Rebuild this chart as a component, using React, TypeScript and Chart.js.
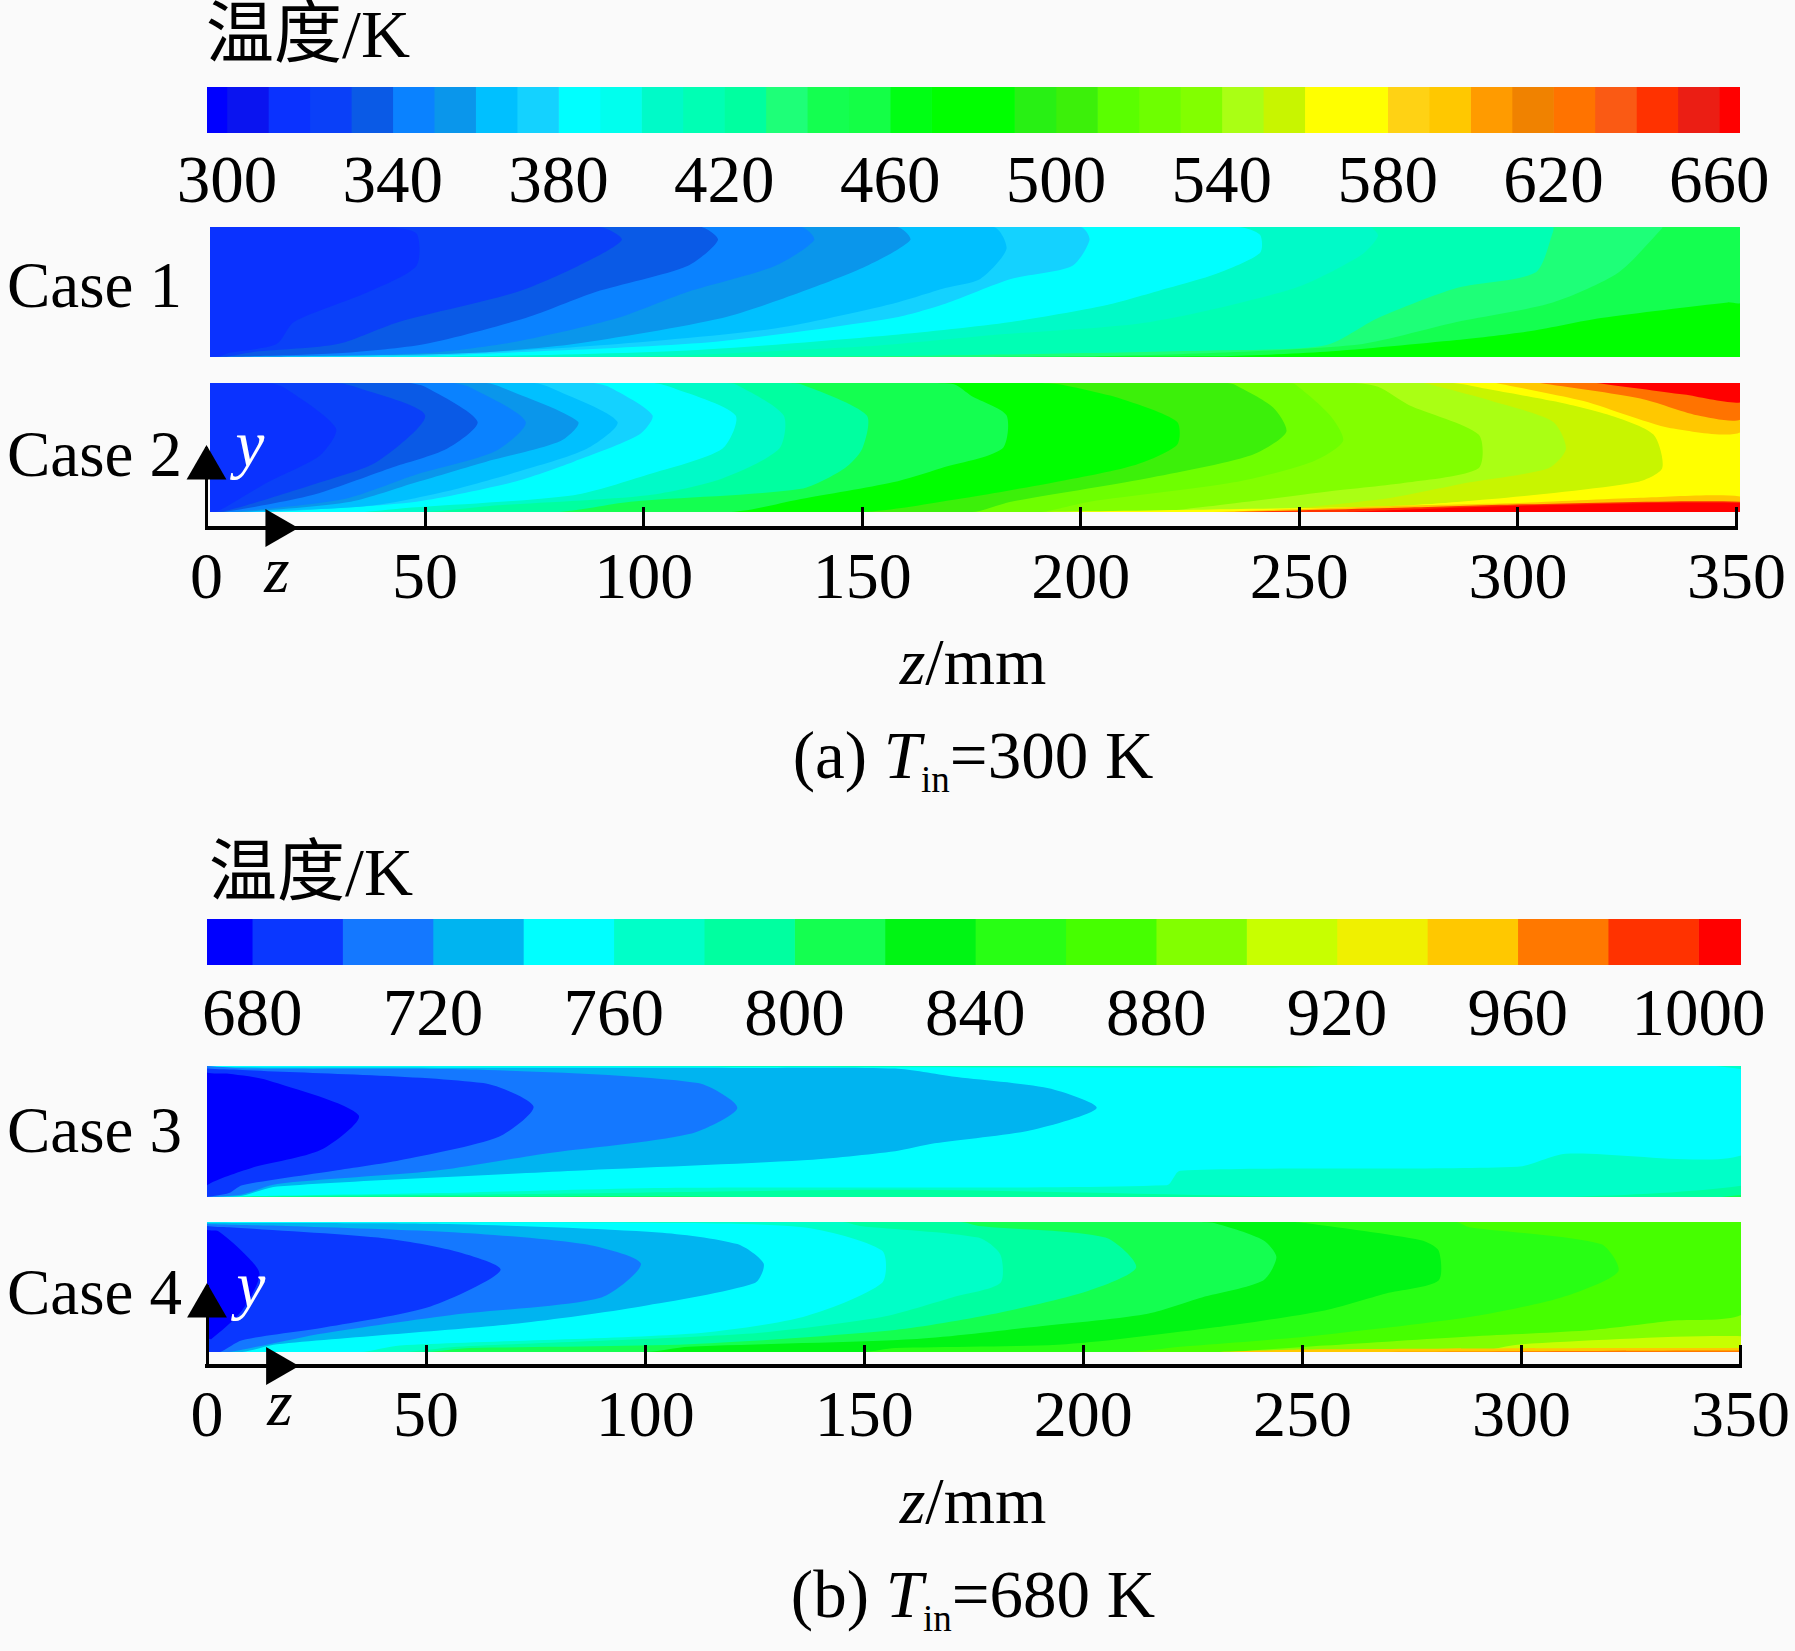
import React, { useEffect, useRef } from "react";
import { Chart, registerables } from "chart.js";

Chart.register(...registerables);

// ---------- colour bars ----------
const bandsA = [290, 300, 310, 320, 330, 340, 350, 360, 370, 380, 390, 400, 410, 420, 430, 440, 450, 460, 470, 480, 490, 500, 510, 520, 530, 540, 550, 560, 570, 580, 590, 600, 610, 620, 630, 640, 650, 660];
const paletteA = ["#0000ff", "#0a14f0", "#0a32ff", "#0a40f8", "#0a5ae6", "#0a82ff", "#0a96eb", "#00c0ff", "#14d2ff", "#00ffff", "#00ffee", "#00fac8", "#00ffb4", "#00ffa0", "#1eff78", "#14ff50", "#14ff46", "#00ff14", "#00ff00", "#00ff00", "#28f014", "#3cf00a", "#5aff00", "#6eff00", "#82ff00", "#aaff14", "#c8f500", "#ffff00", "#ffff00", "#ffd214", "#ffc800", "#ff9b00", "#f08200", "#ff7300", "#fa5a14", "#ff3200", "#eb1e14", "#ff0000"];
const ticksA = [300, 340, 380, 420, 460, 500, 540, 580, 620, 660];

const bandsB = [670, 680, 700, 720, 740, 760, 780, 800, 820, 840, 860, 880, 900, 920, 940, 960, 980, 1000];
const paletteB = ["#0000ff", "#0a37ff", "#1478ff", "#00b4f0", "#00ffff", "#00ffc8", "#00ffa0", "#14ff50", "#00f514", "#28ff14", "#46ff00", "#82ff00", "#c8ff00", "#f0f000", "#ffc800", "#ff7800", "#ff3200", "#ff0000"];
const ticksB = [680, 720, 760, 800, 840, 880, 920, 960, 1000];

const zTicks = [0, 50, 100, 150, 200, 250, 300, 350];
const arrowUp = [{ x: 0, y: 0.75 }];
const arrowRight = [{ x: 16, y: 0 }];

// ---------- isotherms: [band temperature, contour points z (mm), y (0..1)] in paint order ----------
type Layer = [number, number[][]];

const case1: Layer[] = [
  [470, [[351, 0], [351, 1]]],
  [440, [[230, 0.005], [256, 0.04], [286, 0.13], [303, 0.2], [319, 0.3], [348, 0.42], [351, 0.42], [351, 1]]],
  [430, [[200, 0.005], [262, 0.09], [286, 0.27], [308, 0.42], [323, 0.65], [333, 0.99], [333, 1]]],
  [410, [[150, 0.005], [230, 0.05], [256, 0.09], [268, 0.3], [286, 0.53], [304, 0.65], [308, 0.96], [308, 1]]],
  [400, [[100, 0.005], [150, 0.08], [180, 0.17], [216, 0.27], [249, 0.53], [264, 0.78], [268, 0.93], [266, 1]]],
  [380, [[60, 0.005], [110, 0.05], [157, 0.17], [184, 0.27], [206, 0.4], [220, 0.53], [231, 0.64], [241, 0.8], [241, 0.94], [236, 1]]],
  [370, [[45, 0.005], [80, 0.05], [117, 0.12], [157, 0.3], [169, 0.41], [184, 0.6], [198, 0.7], [202, 0.9], [200, 1]]],
  [360, [[30, 0.005], [60, 0.03], [90, 0.09], [130, 0.22], [157, 0.41], [169, 0.53], [177, 0.6], [183, 0.83], [180, 1]]],
  [350, [[20, 0.005], [60, 0.03], [84, 0.1], [118, 0.3], [136, 0.5], [151, 0.7], [161, 0.9], [158, 1]]],
  [340, [[15, 0.005], [50, 0.03], [71, 0.12], [94, 0.3], [110, 0.5], [130, 0.7], [139, 0.9], [136, 1]]],
  [330, [[10, 0.005], [31, 0.03], [50, 0.1], [73, 0.3], [89, 0.5], [110, 0.7], [117, 0.9], [113, 1]]],
  [320, [[5, 0.005], [11, 0.04], [30, 0.1], [44, 0.27], [71, 0.5], [85, 0.7], [95, 0.9], [90, 1]]],
  [310, [[3, 0.005], [5, 0.03], [16, 0.1], [20, 0.27], [37, 0.5], [48, 0.7], [48, 0.95], [40, 1]]],
];

const case2: Layer[] = [
  [570, [[351, 0], [351, 1]]],
  [550, [[250, 0], [294, 0.1], [327, 0.23], [333, 0.34], [331, 0.6], [321, 0.75], [308, 0.86], [292, 0.96], [285, 1]]],
  [540, [[235, 0], [269, 0.1], [289, 0.23], [307, 0.34], [311, 0.49], [308, 0.7], [294, 0.86], [282, 0.97], [278, 1]]],
  [530, [[215, 0], [231, 0.05], [257, 0.16], [275, 0.23], [291, 0.34], [291, 0.6], [275, 0.83], [268, 0.97], [262, 1]]],
  [520, [[190, 0], [202, 0.08], [235, 0.23], [253, 0.39], [260, 0.55], [257, 0.75], [249, 0.99], [247, 1]]],
  [500, [[175, 0], [184, 0.08], [215, 0.26], [239, 0.44], [247, 0.62], [244, 0.81], [235, 0.99], [233, 1]]],
  [480, [[150, 0], [172, 0.1], [194, 0.23], [212, 0.36], [222, 0.52], [222, 0.7], [209, 0.88], [195, 0.99], [190, 1]]],
  [440, [[120, 0], [136, 0.1], [157, 0.23], [168, 0.34], [182, 0.49], [183, 0.75], [175, 0.9], [171, 0.99], [165, 1]]],
  [420, [[80, 0], [97, 0.08], [136, 0.18], [146, 0.34], [150, 0.49], [151, 0.75], [136, 0.99], [132, 1]]],
  [400, [[50, 0], [66, 0.05], [101, 0.13], [118, 0.26], [131, 0.49], [132, 0.75], [121, 0.99], [118, 1]]],
  [380, [[35, 0], [45, 0.03], [84, 0.13], [101, 0.29], [118, 0.49], [121, 0.75], [106, 0.97], [102, 1]]],
  [370, [[12, 0], [20, 0.01], [48, 0.08], [70, 0.23], [84, 0.39], [99, 0.6], [102, 0.75], [92, 0.97], [88, 1]]],
  [360, [[10, 0], [38, 0.05], [55, 0.16], [71, 0.31], [87, 0.49], [94, 0.7], [79, 0.96], [75, 1]]],
  [350, [[8, 0], [33, 0.08], [48, 0.23], [64, 0.39], [81, 0.55], [85, 0.7], [68, 0.96], [64, 1]]],
  [340, [[6, 0], [31.5, 0.1], [48, 0.29], [66, 0.47], [73, 0.7], [60, 0.97], [56, 1]]],
  [330, [[4, 0], [24, 0.13], [42, 0.34], [55, 0.49], [62, 0.7], [50, 0.97], [46, 1]]],
  [320, [[3, 0], [9, 0.05], [26, 0.23], [39, 0.39], [50, 0.75], [34, 0.97], [30, 1]]],
  [310, [[2, 0], [5, 0.05], [14, 0.23], [26, 0.44], [29.6, 0.65], [18, 0.96], [14, 1]]],
];
const case2Hot: Layer[] = [
  [590, [[295, 1], [315, 0.86], [325, 0.75], [335, 0.65], [351, 0.62], [351, 1]]],
  [620, [[305, 1], [328, 0.88], [341, 0.75], [351, 0.72], [351, 1]]],
  [660, [[318, 1], [338, 0.91], [351, 0.85], [351, 1]]],
  [570, [[190, 0], [230, 0.02], [270, 0.045], [294, 0.09], [328, 0.12], [351, 0.13], [351, 0]]],
  [590, [[230, 0], [275, 0.05], [300, 0.07], [328, 0.11], [351, 0.12], [351, 0]]],
  [640, [[235, 0], [275, 0.035], [302, 0.06], [351, 0.08], [351, 0]]],
  [660, [[260, 0], [275, 0.02], [302, 0.05], [351, 0.07], [351, 0]]],
];

const case3: Layer[] = [
  [800, [[351, 0], [351, 1]]],
  [780, [[5, 0], [100, 0.005], [351, 0.02], [351, 1]]],
  [760, [[10, 0.005], [80, 0.025], [150, 0.055], [351, 0.09], [351, 0.99], [240, 0.99], [100, 1]]],
  [740, [[15, 0.01], [60, 0.035], [107, 0.07], [219, 0.09], [222, 0.2], [299, 0.23], [310, 0.33], [351, 0.33], [351, 0.97], [240, 0.985], [100, 0.995]]],
  [720, [[8, 0.01], [16, 0.08], [84, 0.2], [136, 0.28], [157, 0.35], [166, 0.41], [188, 0.51], [203, 0.68], [192, 0.83], [170, 0.92], [157, 0.98], [123, 0.985], [0, 0.99]]],
  [700, [[8, 0.02], [16, 0.1], [52, 0.2], [77, 0.33], [110, 0.48], [121, 0.68], [112, 0.87], [64, 0.97], [10, 0.98]]],
  [680, [[5, 0.03], [8, 0.09], [29, 0.2], [44, 0.28], [66.6, 0.46], [74.5, 0.69], [63, 0.87], [8, 0.97], [0, 0.98]]],
  [670, [[0, 0.09], [10, 0.22], [26, 0.36], [34.6, 0.625], [14, 0.89], [5, 0.94], [0, 0.95]]],
];

const case4: Layer[] = [
  [880, [[351, 0], [351, 1]]],
  [860, [[230, 0], [255, 0.05], [288, 0.12], [316, 0.17], [334, 0.24], [351, 0.31], [351, 1]]],
  [840, [[210, 0], [222, 0.04], [251, 0.12], [288, 0.27], [309, 0.42], [322, 0.62], [318, 0.83], [288, 0.96], [285, 1]]],
  [820, [[150, 0], [157, 0.03], [196, 0.06], [230, 0.19], [255, 0.32], [269, 0.45], [281, 0.55], [281, 0.78], [277, 0.86], [251, 0.99], [248, 1]]],
  [800, [[100, 0], [110, 0.04], [162, 0.1], [188, 0.19], [214, 0.29], [227, 0.42], [241, 0.55], [244, 0.73], [241, 0.86], [230, 0.99], [225, 1]]],
  [780, [[50, 0], [60, 0.03], [110, 0.06], [157, 0.17], [179, 0.29], [201, 0.47], [212, 0.65], [205, 0.88], [176, 0.97], [172, 1]]],
  [760, [[45, 0], [57, 0.04], [123, 0.14], [154, 0.27], [170, 0.42], [181, 0.53], [181, 0.75], [176, 0.88], [149, 0.97], [145, 1]]],
  [740, [[35, 0], [44, 0.05], [110, 0.14], [136, 0.27], [154, 0.53], [154, 0.78], [136, 0.96], [97, 0.995]]],
  [720, [[8, 0], [16, 0.06], [71, 0.22], [99, 0.35], [125, 0.53], [127, 0.68], [121, 0.83], [103, 0.92], [55, 0.985], [0, 0.995]]],
  [700, [[5, 0], [10, 0.03], [26, 0.14], [57, 0.29], [90, 0.42], [99, 0.68], [86, 0.83], [57, 0.92], [18, 0.97], [0, 0.985]]],
  [680, [[3, 0], [8, 0.09], [27, 0.19], [51, 0.35], [67, 0.63], [56, 0.78], [39, 0.88], [5, 0.96], [0, 0.97]]],
  [670, [[0, 0.1], [1, 0.1], [8, 0.32], [12, 0.6], [7.8, 0.78], [2.5, 0.93], [0, 0.94]]],
];
const case4Hot: Layer[] = [
  [900, [[290, 0], [300, 0.06], [351, 0.12], [351, 0]]],
  [940, [[230, 0], [250, 0.02], [351, 0.03], [351, 0]]],
  [960, [[260, 0], [351, 0.012], [351, 0]]],
];

// ---------- fonts ----------
const SERIF = '"Liberation Serif", "Noto Sans CJK SC", serif';
const barTickFont = { family: SERIF, size: 67 };
const axisTickFont = { family: SERIF, size: 66 };
const BLACK = "#000000";
const PAGE = "#fafafa";

function colourOf(t: number, bands: number[], palette: string[]) {
  return palette[bands.indexOf(t)];
}

function contourDatasets(layers: Layer[], hot: Layer[], bands: number[], palette: string[]) {
  const wrap = (pts: number[][]) => [[0, 0], ...pts, [0, 1]];
  const painted = [
    ...layers.map(([t, pts]) => ({ t, pts: wrap(pts) })),
    ...hot.map(([t, pts]) => ({ t, pts })),
  ];
  // Chart.js paints the first dataset last, so the paint order is reversed.
  return painted.reverse().map(({ t, pts }) => ({
    data: pts.map(([x, y]) => ({ x, y })),
    showLine: true,
    fill: "shape",
    tension: 0.25,
    backgroundColor: colourOf(t, bands, palette),
    borderWidth: 0,
    pointRadius: 0,
  }));
}

const bare = {
  responsive: false,
  animation: false,
  devicePixelRatio: 1,
  events: [],
  plugins: { legend: { display: false }, tooltip: { enabled: false }, title: { display: false } },
};

function fieldConfig(layers: Layer[], hot: Layer[], bands: number[], palette: string[], zMin: number, zMax: number) {
  return {
    type: "scatter",
    data: { datasets: contourDatasets(layers, hot, bands, palette) },
    options: {
      ...bare,
      layout: { padding: 0 },
      scales: {
        x: { type: "linear", display: false, min: zMin, max: zMax },
        y: { type: "linear", display: false, min: 0, max: 1 },
      },
    },
  };
}

function noEdgePadding(s: any) {
  s.paddingLeft = 0;
  s.paddingRight = 0;
  s.paddingTop = 0;
  s.paddingBottom = 0;
}

function barConfig(bands: number[], palette: string[], ticks: number[], min: number, max: number, end: number, left: number, right: number, axisH: number, pad: number) {
  return {
    type: "bar",
    data: {
      labels: ["T"],
      datasets: bands.map((b, i) => ({
        data: [[b, i + 1 < bands.length ? bands[i + 1] : end]],
        backgroundColor: palette[i],
        borderWidth: 0,
        grouped: false,
        barPercentage: 1,
        categoryPercentage: 1,
      })),
    },
    options: {
      ...bare,
      indexAxis: "y",
      layout: { padding: { left, right, top: 0, bottom: 0 } },
      scales: {
        x: {
          type: "linear",
          min,
          max,
          afterBuildTicks: (s: any) => { s.ticks = ticks.map((value) => ({ value })); },
          afterFit: (s: any) => { s.height = axisH; noEdgePadding(s); },
          grid: { display: false },
          border: { display: false },
          ticks: { autoSkip: false, maxRotation: 0, color: BLACK, font: barTickFont, padding: pad, callback: (v: any) => String(v) },
        },
        y: { display: false },
      },
    },
  };
}

function axesConfig(left: number, right: number, top: number, axisH: number, tick: number, pad: number) {
  return {
    type: "scatter",
    data: {
      datasets: [
        { data: arrowUp, clip: false, pointStyle: "triangle", pointRadius: 23, pointBackgroundColor: BLACK, pointBorderWidth: 0, showLine: false },
        { data: arrowRight, clip: false, pointStyle: "triangle", pointRotation: 90, pointRadius: 22, pointBackgroundColor: BLACK, pointBorderWidth: 0, showLine: false },
      ],
    },
    options: {
      ...bare,
      layout: { padding: { left, right, top, bottom: 0 } },
      scales: {
        x: {
          type: "linear",
          min: 0,
          max: 350,
          afterBuildTicks: (s: any) => { s.ticks = zTicks.map((value) => ({ value })); },
          afterFit: (s: any) => { s.height = axisH; noEdgePadding(s); },
          grid: { drawOnChartArea: false, drawTicks: true, tickLength: -tick, tickColor: BLACK, tickWidth: 3 },
          border: { display: true, color: BLACK, width: 4 },
          ticks: { autoSkip: false, maxRotation: 0, color: BLACK, font: axisTickFont, padding: pad, callback: (v: any) => String(v) },
        },
        y: {
          type: "linear",
          min: 0,
          max: 1,
          afterFit: (s: any) => { s.width = 0; noEdgePadding(s); },
          grid: { drawOnChartArea: false, drawTicks: false },
          border: { display: true, color: BLACK, width: 3 },
          ticks: { display: false },
        },
      },
    },
  };
}

function Plot({ config, left, top, width, height }: { config: any; left: number; top: number; width: number; height: number }) {
  const ref = useRef<HTMLCanvasElement | null>(null);
  useEffect(() => {
    const chart = new Chart(ref.current as HTMLCanvasElement, config);
    return () => chart.destroy();
  }, []);
  return (
    <canvas
      ref={ref}
      width={width}
      height={height}
      style={{ position: "absolute", left, top, width, height, display: "block" }}
    />
  );
}

function Label({ x, y, anchor = "left", size = 65, color = BLACK, italic = false, children }: any) {
  return (
    <span
      style={{
        position: "absolute",
        left: x,
        top: y,
        transform: `translate(${anchor === "center" ? "-50%" : "0"}, -50%)`,
        fontFamily: SERIF,
        fontSize: size,
        lineHeight: 1,
        color,
        fontStyle: italic ? "italic" : "normal",
        whiteSpace: "nowrap",
      }}
    >
      {children}
    </span>
  );
}

function Caption({ x, y, tag, value }: { x: number; y: number; tag: string; value: string }) {
  return (
    <Label x={x} y={y} anchor="center" size={67}>
      {tag} <i>T</i>
      <sub style={{ fontSize: 37, lineHeight: 0, verticalAlign: -14 }}>in</sub>={value} K
    </Label>
  );
}

function ZMm({ x, y }: { x: number; y: number }) {
  return (
    <Label x={x} y={y} anchor="center" size={66}>
      <i>z</i>/mm
    </Label>
  );
}

export default function App() {
  return (
    <div style={{ position: "absolute", left: 0, top: 0, width: 1795, height: 1651, background: PAGE, overflow: "hidden" }}>
      <Plot config={barConfig(bandsA, paletteA, ticksA, 295.2, 665, 670, 207, 55, 82, 3)} left={0} top={87} width={1795} height={128} />
      <Plot config={fieldConfig(case1, [], bandsA, paletteA, 0.8, 350.8)} left={210} top={227} width={1530} height={130} />
      <Plot config={fieldConfig(case2, case2Hot, bandsA, paletteA, 0.8, 350.8)} left={210} top={383} width={1530} height={129} />
      <Plot config={axesConfig(206.5, 58.5, 10, 122, 21, 34)} left={0} top={425} width={1795} height={225} />

      <Plot config={barConfig(bandsB, paletteB, ticksB, 670, 1009.4, 1010, 207, 54, 82, 4)} left={0} top={919} width={1795} height={128} />
      <Plot config={fieldConfig(case3, [], bandsB, paletteB, 0, 350)} left={207} top={1066} width={1534} height={131} />
      <Plot config={fieldConfig(case4, case4Hot, bandsB, paletteB, 0, 350)} left={207} top={1222} width={1534} height={130} />
      <Plot config={axesConfig(207, 54.4, 10, 122, 21, 34)} left={0} top={1263} width={1795} height={225} />

      <Label x={206} y={34} size={68}>温度/K</Label>
      <Label x={209} y={872} size={68}>温度/K</Label>
      <Label x={7} y={285}>Case 1</Label>
      <Label x={7} y={454}>Case 2</Label>
      <Label x={7} y={1130}>Case 3</Label>
      <Label x={7} y={1292}>Case 4</Label>
      <Label x={250} y={444} anchor="center" color="#ffffff" italic>y</Label>
      <Label x={251} y={1285} anchor="center" color="#ffffff" italic>y</Label>
      <Label x={277} y={570} anchor="center" italic>z</Label>
      <Label x={280} y={1403} anchor="center" italic>z</Label>
      <ZMm x={973} y={662} />
      <ZMm x={973} y={1501} />
      <Caption x={973} y={755} tag="(a)" value="300" />
      <Caption x={973} y={1594} tag="(b)" value="680" />
    </div>
  );
}
